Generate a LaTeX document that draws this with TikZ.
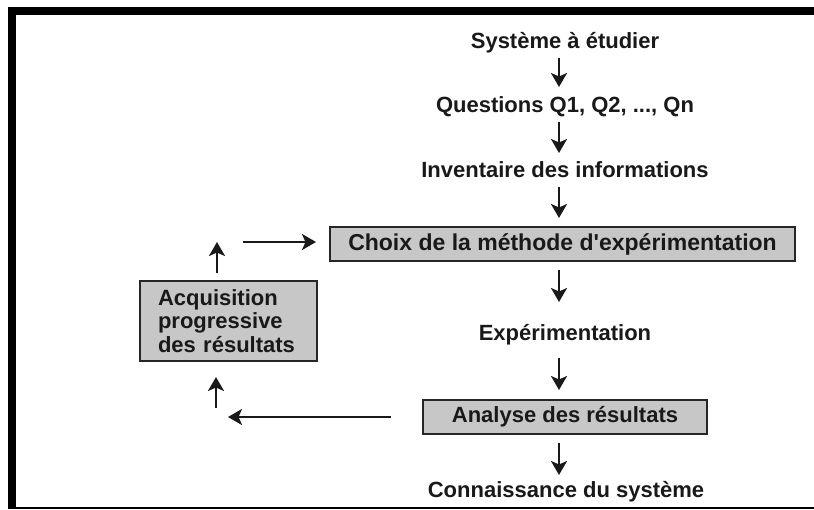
\documentclass[tikz,border=0pt]{standalone}
\usepackage{fontspec}
\setmainfont{Liberation Sans}
\usetikzlibrary{arrows.meta}
\begin{document}
\begin{tikzpicture}[x=1pt,y=-1pt,
  lbl/.style={font=\fontsize{22}{26}\selectfont\bfseries, inner sep=0pt, text=black!90},
  graybox/.style={lbl, draw=black!85, line width=1.6pt, fill=black!22},
  arr/.style={line width=2.3pt, draw=black!90, -{Stealth[length=14pt,width=16pt,inset=3.5pt]}}]
\useasboundingbox (0,0) rectangle (814,509);
\fill[white] (0,0) rectangle (814,509);
% frame
\fill[black] (8,6.5) rectangle (814,15);
\fill[black] (8,6.5) rectangle (16,509);
\fill[black] (8,507) rectangle (814,509);
% nodes
\node[lbl] (sys) at (565,43) {Système à étudier};
\node[lbl] (q) at (565,107) {Questions Q1, Q2, ..., Qn};
\node[lbl] (inv) at (565,170) {Inventaire des informations};
\node[graybox, minimum width=465pt, minimum height=34pt, font=\fontsize{23}{26}\selectfont\bfseries] (choix) at (562.5,244) {Choix de la méthode d\textquotesingle expérimentation};
\node[lbl] (exp) at (565,335) {Expérimentation};
\node[graybox, minimum width=284pt, minimum height=34pt] (ana) at (565,417) {Analyse des résultats};
\node[lbl] (conn) at (566,492) {Connaissance du système};
\node[graybox, minimum width=177pt, minimum height=80pt, text width=141pt, align=left,
  font=\fontsize{22}{23.5}\selectfont\bfseries] (acq) at (228.5,321) {Acquisition\\progressive\\des résultats};
% connector end points
\coordinate (a1s) at (559,58);  \coordinate (a1e) at (559,87);
\coordinate (a2s) at (559,122); \coordinate (a2e) at (559,153);
\coordinate (a3s) at (559,187); \coordinate (a3e) at (559,218);
\coordinate (a4s) at (559,270); \coordinate (a4e) at (559,302);
\coordinate (a5s) at (559,358); \coordinate (a5e) at (559,390);
\coordinate (a6s) at (559,443); \coordinate (a6e) at (559,475);
\coordinate (l1s) at (391,417); \coordinate (l1e) at (228,417);
\coordinate (u1s) at (216,408); \coordinate (u1e) at (216,377);
\coordinate (u2s) at (217,273); \coordinate (u2e) at (217,242);
\coordinate (r1s) at (243,242); \coordinate (r1e) at (316,242);
% connectors
\draw[arr] (a1s) -- (a1e);
\draw[arr] (a2s) -- (a2e);
\draw[arr] (a3s) -- (a3e);
\draw[arr] (a4s) -- (a4e);
\draw[arr] (a5s) -- (a5e);
\draw[arr] (a6s) -- (a6e);
\draw[arr] (l1s) -- (l1e);
\draw[arr] (u1s) -- (u1e);
\draw[arr] (u2s) -- (u2e);
\draw[arr] (r1s) -- (r1e);
\end{tikzpicture}
\end{document}
